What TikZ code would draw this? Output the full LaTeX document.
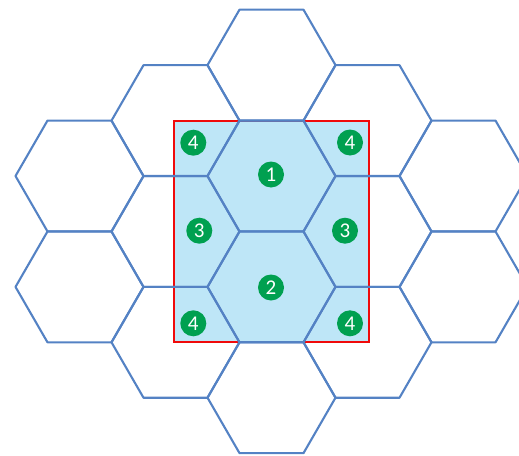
\documentclass[tikz,border=0pt]{standalone}
\usepackage{fontspec}
\setmainfont{Carlito}
\definecolor{hexblue}{RGB}{84,130,196}
\definecolor{cellfill}{RGB}{190,230,247}
\definecolor{marker}{RGB}{0,160,80}
\definecolor{boxred}{RGB}{240,10,10}
\tikzset{
  hexcell/.style={draw=hexblue, line width=2.1pt, line join=round},
  frame/.style={draw=boxred, line width=2.2pt},
  badge/.style={circle, fill=marker, text=white, minimum size=26pt, inner sep=0pt, font=\fontsize{21pt}{21pt}\selectfont}
}
\begin{document}
\begin{tikzpicture}[x=1pt,y=-1pt]
  \useasboundingbox (0,0) rectangle (519,455);
  % shaded region and its boundary
  \fill[cellfill] (174,120.6) rectangle (369,342.3);
  \draw[frame] (174,120.6) rectangle (369,342.3);
  % hexagonal cells (flat top, circumradius 64)
  \foreach \cx/\cy in {271.5/176, 271.5/286.9, 271.5/65.1, 271.5/397.7,
                       175.5/120.6, 175.5/231.5, 175.5/342.3,
                       367.5/120.6, 367.5/231.5, 367.5/342.3,
                       79.5/176, 79.5/286.9, 463.5/176, 463.5/286.9}
    \draw[hexcell, shift={(\cx,\cy)}]
      (0:64) -- (60:64) -- (120:64) -- (180:64) -- (240:64) -- (300:64) -- cycle;
  % cell labels
  \node[badge] (a1) at (271,174.5) {1};
  \node[badge] (a2) at (271,287.5) {2};
  \node[badge] (l3) at (199.3,230.7) {3};
  \node[badge] (r3) at (345,230.7) {3};
  \node[badge] (tl4) at (193.3,142.7) {4};
  \node[badge] (tr4) at (350,142.5) {4};
  \node[badge] (bl4) at (193.3,323.3) {4};
  \node[badge] (br4) at (350,323.3) {4};
\end{tikzpicture}
\end{document}
